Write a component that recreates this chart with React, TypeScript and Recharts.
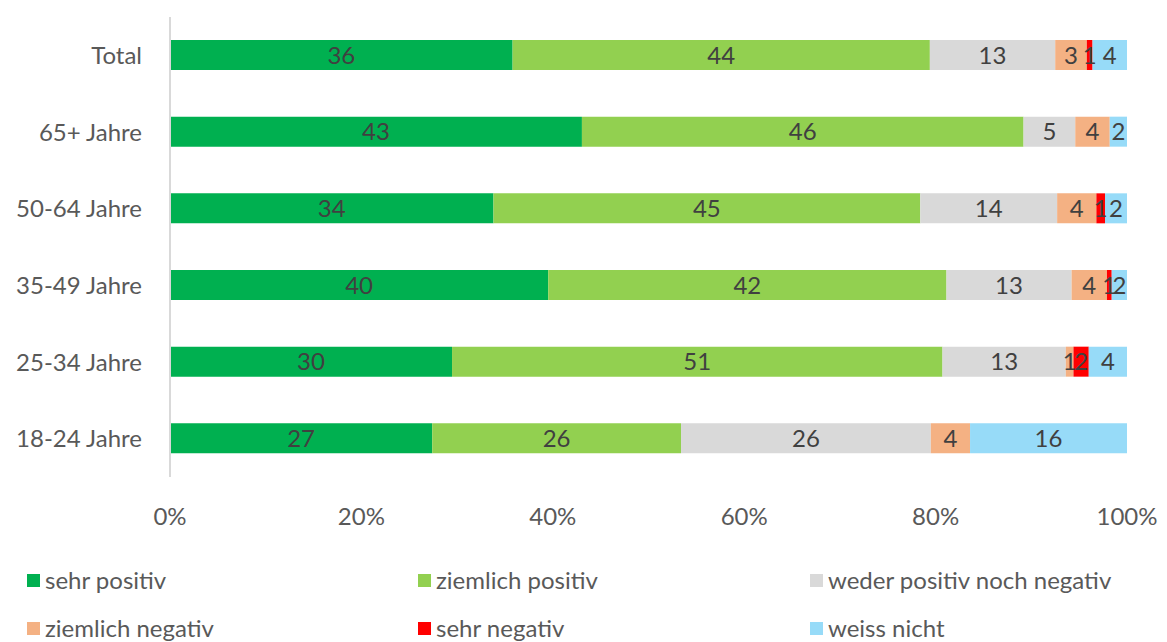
import { BarChart, Bar, XAxis, YAxis, LabelList } from 'recharts'

const categories = ['Total', '65+ Jahre', '50-64 Jahre', '35-49 Jahre', '25-34 Jahre', '18-24 Jahre']

const sehrPositiv = [35.8, 43.0, 33.8, 39.6, 29.5, 27.4]
const ziemlichPositiv = [43.6, 46.1, 44.6, 41.7, 51.3, 26.0]
const weder = [13.1, 5.4, 14.3, 13.1, 12.9, 26.1]
const ziemlichNegativ = [3.3, 3.6, 4.1, 3.7, 0.8, 4.1]
const sehrNegativ = [0.6, 0, 0.9, 0.5, 1.6, 0]
const weissNicht = [3.6, 1.8, 2.3, 1.6, 4.0, 16.4]

const xTicks = [0, 0.2, 0.4, 0.6, 0.8, 1]

const series = [
  { key: 'sp', name: 'sehr positiv', color: '#00b050', values: sehrPositiv },
  { key: 'zp', name: 'ziemlich positiv', color: '#92d050', values: ziemlichPositiv },
  { key: 'we', name: 'weder positiv noch negativ', color: '#d9d9d9', values: weder },
  { key: 'zn', name: 'ziemlich negativ', color: '#f4b183', values: ziemlichNegativ },
  { key: 'sn', name: 'sehr negativ', color: '#ff0000', values: sehrNegativ },
  { key: 'wn', name: 'weiss nicht', color: '#97dbf8', values: weissNicht },
]

const data = categories.map((name, i) => {
  const row: Record<string, string | number> = { name }
  series.forEach((s) => {
    row[s.key] = s.values[i]
  })
  return row
})

const font = 'Lato, "Open Sans", sans-serif'

export default function App() {
  return (
    <div style={{ position: 'absolute', left: 0, top: 0, width: 1167, height: 642, background: '#fff', fontFamily: font }}>
      <BarChart
        width={1167}
        height={560}
        data={data}
        layout="vertical"
        stackOffset="expand"
        margin={{ top: 17, right: 40, bottom: 0, left: 0 }}
      >
        <XAxis
          type="number"
          domain={[0, 1]}
          ticks={xTicks}
          tickFormatter={(v: number) => `${Math.round(v * 100)}%`}
          axisLine={false}
          tickLine={false}
          height={83}
          tickMargin={25}
          tick={{ fill: '#595959', fontSize: 24, fontFamily: font }}
        />
        <YAxis
          type="category"
          dataKey="name"
          width={170}
          axisLine={{ stroke: '#d9d9d9', strokeWidth: 2 }}
          tickLine={false}
          tickMargin={22}
          tick={{ fill: '#595959', fontSize: 24, fontFamily: font }}
        />
        {series.map((s) => (
          <Bar key={s.key} dataKey={s.key} name={s.name} stackId="a" fill={s.color} barSize={30} isAnimationActive={false}>
            <LabelList
              dataKey={s.key}
              position="center"
              fill="#404040"
              fontSize={24}
              fontFamily={font}
              formatter={(v: any) => (Number(v) > 0 ? Math.round(Number(v)) : '')}
            />
          </Bar>
        ))}
      </BarChart>
      {series.map((s, i) => (
        <div
          key={s.key}
          style={{
            position: 'absolute',
            left: [27, 418, 810][i % 3],
            top: i < 3 ? 565 : 613,
            display: 'flex',
            alignItems: 'center',
            fontSize: 24,
            color: '#595959',
            lineHeight: '30px',
            whiteSpace: 'nowrap',
          }}
        >
          <span style={{ display: 'inline-block', width: 13, height: 13, background: s.color, marginRight: 5 }} />
          {s.name}
        </div>
      ))}
    </div>
  )
}
